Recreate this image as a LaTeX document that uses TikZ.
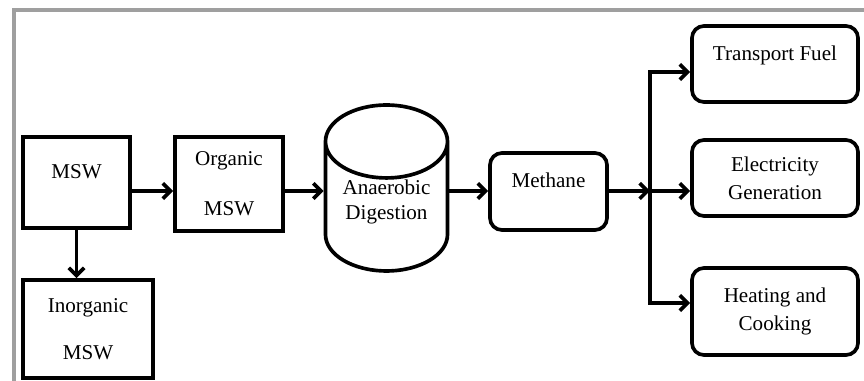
\documentclass[tikz,border=0pt]{standalone}
\usepackage{fontspec}
\setmainfont{Liberation Serif}
\usetikzlibrary{shapes.geometric,arrows.meta}

\begin{document}
\begin{tikzpicture}[x=0.025cm, y=0.025cm,
    box/.style = {draw, line width=2.6pt, align=center, font=\fontsize{15pt}{18pt}\selectfont},
    rbox/.style = {box, rounded corners=0.3cm},
    toptext/.style = {text depth=0.55cm},
    flow/.style = {line width=2.6pt, -{Straight Barb[length=5.5pt,width=11pt]}}]

    \useasboundingbox (0,0) rectangle (864,381);

    % Frame
    \draw[gray!75, line width=3pt] (14,0) |- (864,371);

    % Left column
    \node[box, toptext, minimum width=2.675cm, minimum height=2.275cm] (msw) at (76.5,198.5) {MSW};
    \node[box, minimum width=3.25cm, minimum height=2.45cm] (inorg) at (88,52) {Inorganic\\[15.4pt]MSW};
    \node[box, minimum width=2.7cm, minimum height=2.35cm] (organic) at (229,197) {Organic\\[17.6pt]MSW};

    % Digester + methane
    \node[box, cylinder, shape border rotate=90, aspect=0.75, minimum width=3.05cm, minimum height=3.7cm, anchor=shape center, inner ysep=0pt, text depth=0.72cm] (digest) at (386.5,193) {Anaerobic\\Digestion};
    \node[rbox, toptext, minimum width=2.925cm, minimum height=1.925cm] (methane) at (548.5,189.5) {Methane};

    % Uses
    \node[rbox, toptext, minimum width=4.15cm, minimum height=1.9cm] (tf) at (775,317) {Transport Fuel};
    \node[rbox, minimum width=4.15cm, minimum height=1.9cm] (elec) at (775,203) {Electricity\\[1.8pt]Generation};
    \node[rbox, minimum width=4.15cm, minimum height=2.175cm] (heat) at (775,69.5) {Heating and\\[1.8pt]Cooking};

    % Arrows
    \coordinate (row) at (0,190);
    \draw[flow] (msw.east |- row) -- (organic.west |- row);
    \draw[flow] (organic.east |- row) -- (digest.west |- row);
    \draw[flow] (digest.east |- row) -- (methane.west |- row);
    \draw[flow] (msw.south) -- (msw.south |- inorg.north);

    % Branch
    \coordinate (split) at (650,190);
    \coordinate (uptap) at (650,309);
    \coordinate (downtap) at (650,78);
    \draw[flow] (methane.east |- row) -- (split);
    \draw[flow] (split) -- (split -| elec.west);
    \draw[flow] (split) -- (uptap) -- (uptap -| tf.west);
    \draw[flow] (split) -- (downtap) -- (downtap -| heat.west);

\end{tikzpicture}
\end{document}
